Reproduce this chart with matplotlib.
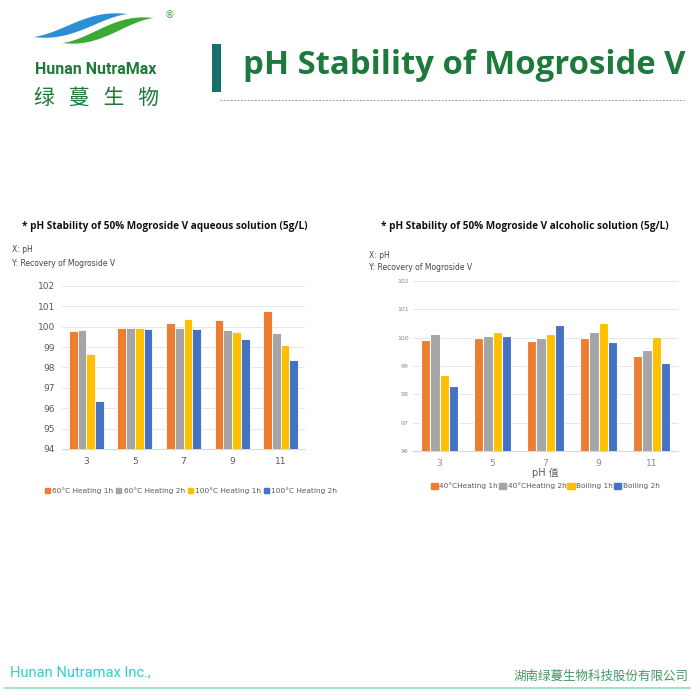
import matplotlib
matplotlib.use('Agg')
import matplotlib.pyplot as plt
import numpy as np
from matplotlib.patches import Rectangle, Polygon

plt.rcParams['font.family'] = ['DejaVu Sans', 'Noto Sans CJK SC']

# data
ph = ['3', '5', '7', '9', '11']

aq_labels = ['60\u00b0C Heating 1h', '60\u00b0C Heating 2h', '100\u00b0C Heating 1h', '100\u00b0C Heating 2h']
aq_60_1h = [99.81, 99.94, 100.20, 100.32, 100.78]
aq_60_2h = [99.83, 99.93, 99.96, 99.85, 99.71]
aq_100_1h = [98.67, 99.93, 100.40, 99.73, 99.09]
aq_100_2h = [96.35, 99.88, 99.89, 99.40, 98.38]

al_labels = ['40\u00b0CHeating 1h', '40\u00b0CHeating 2h', 'Boiling 1h', 'Boiling 2h']
al_40_1h = [99.92, 99.98, 99.90, 99.98, 99.36]
al_40_2h = [100.14, 100.05, 99.98, 100.20, 99.55]
al_boil_1h = [98.70, 100.19, 100.12, 100.51, 100.04]
al_boil_2h = [98.31, 100.05, 100.45, 99.84, 99.12]

colors = ['#ED7D31', '#A5A5A5', '#FFC000', '#4472C4']

fig = plt.figure(figsize=(7, 7), dpi=100)

# overlay in pixel coords for decoration and text
ov = fig.add_axes([0, 0, 1, 1])
ov.set_xlim(0, 700)
ov.set_ylim(700, 0)
ov.set_axis_off()

# logo swooshes
def swoosh(x0, y0, x1, y1, h, color):
    t = np.linspace(0, 1, 80)
    xc = x0 + t * (x1 - x0)
    yc = y0 + (y1 - y0) * (0.5 - 0.5 * np.cos(np.pi * t))
    th = h * np.sin(np.pi * t) ** 1.2
    top = np.column_stack([xc, yc - th / 2])
    bot = np.column_stack([xc[::-1], (yc + th / 2)[::-1]])
    ov.add_patch(Polygon(np.vstack([top, bot]), closed=True, color=color, lw=0))

swoosh(33, 37, 128, 14, 10, '#2B8FD6')
swoosh(62, 43, 154, 18, 10, '#3DA935')
ov.text(170, 15, '\u00ae', fontsize=7, color='#3DA935', ha='center', va='center')
ov.text(96, 69, 'Hunan NutraMax', fontsize=11.5, fontweight='bold', color='#1F7A3A',
        ha='center', va='center', family='Roboto')
ov.text(97, 98, '绿   蔓   生   物', fontsize=15, color='#1F7A3A', ha='center', va='center',
        family=['Noto Sans CJK SC'])

# title block
ov.add_patch(Rectangle((212, 44), 9, 48, color='#17706A', lw=0))
ov.text(243, 65, 'pH Stability of Mogroside V', fontsize=23.7, fontweight='bold',
        color='#1E7A3C', ha='left', va='center', family='Open Sans')
ov.plot([220, 684], [100, 100], ls=(0, (2, 1.5)), color='#9A9A9A', lw=0.7)

# subtitles
ov.text(22, 227, '* pH Stability of 50% Mogroside V aqueous solution (5g/L)', fontsize=7.2,
        fontweight='bold', color='#111111', ha='left', va='center', family='Open Sans')
ov.text(381, 227, '* pH Stability of 50% Mogroside V alcoholic solution (5g/L)', fontsize=7.2,
        fontweight='bold', color='#111111', ha='left', va='center', family='Open Sans')
ov.text(12, 250, 'X: pH', fontsize=5.5, color='#444444', va='center')
ov.text(12, 264, 'Y: Recovery of Mogroside V', fontsize=5.5, color='#444444', va='center')
ov.text(369, 255, 'X: pH', fontsize=5.5, color='#444444', va='center')
ov.text(369, 268, 'Y: Recovery of Mogroside V', fontsize=5.5, color='#444444', va='center')

# footer
ov.text(10, 672, 'Hunan Nutramax Inc.,', fontsize=10.5, color='#30CFCF', va='center',
        family='Roboto')
ov.text(689, 676, '湖南绿蔓生物科技股份有限公司', fontsize=9, color='#4A9468', ha='right',
        va='center', family=['Noto Sans CJK SC'])
ov.plot([5, 690], [688, 688], color='#8FD9C6', lw=1.2)


def bars(ax, series, width, lw):
    x = np.arange(len(ph))
    n = len(series)
    for i, (vals, c) in enumerate(zip(series, colors)):
        ax.bar(x + (i - (n - 1) / 2) * width, vals, width, color=c, edgecolor='white',
               linewidth=lw, zorder=3)
    ax.set_xticks(x)
    ax.set_xticklabels(ph)
    ax.set_xlim(-0.5, len(ph) - 0.5)
    for s in ['top', 'right', 'left']:
        ax.spines[s].set_visible(False)
    ax.spines['bottom'].set_color('#D9D9D9')
    ax.yaxis.grid(True, color='#E6E6E6', lw=0.7, zorder=0)
    ax.tick_params(length=0, colors='#595959')


# left chart: aqueous
axl = fig.add_axes([62 / 700, 1 - 449 / 700, 243 / 700, 163 / 700])
bars(axl, [aq_60_1h, aq_60_2h, aq_100_1h, aq_100_2h], 0.18, 0.6)
axl.set_ylim(94, 102)
axl.set_yticks(range(94, 103))
axl.tick_params(axis='y', labelsize=6.5, pad=5)
axl.tick_params(axis='x', labelsize=6.5, pad=6)

# right chart: alcoholic
axr = fig.add_axes([413 / 700, 1 - 451 / 700, 265 / 700, 170 / 700])
bars(axr, [al_40_1h, al_40_2h, al_boil_1h, al_boil_2h], 0.175, 0.8)
axr.set_ylim(96, 102)
axr.set_yticks(range(96, 103))
axr.tick_params(axis='y', labelsize=4.5, pad=3, colors='#8C8C8C')
axr.tick_params(axis='x', labelsize=6.5, pad=6, colors='#8C8C8C')
axr.set_xlabel('pH 值', fontsize=7, color='#595959', labelpad=0,
               family=['DejaVu Sans', 'Noto Sans CJK SC'])

# legends
handles = [Rectangle((0, 0), 1, 1, color=c) for c in colors]
fig.legend(handles, aq_labels, loc='center', bbox_to_anchor=(191 / 700, 1 - 491 / 700),
           ncol=4, frameon=False, fontsize=5.3, handlelength=0.7, handleheight=0.7,
           handletextpad=0.3, columnspacing=0.4, labelcolor='#595959')
fig.legend(handles, al_labels, loc='center', bbox_to_anchor=(545 / 700, 1 - 486 / 700),
           ncol=4, frameon=False, fontsize=5.3, handlelength=1.0, handleheight=1.0,
           handletextpad=0.2, columnspacing=0.1, labelcolor='#595959')

fig.savefig('out.png', dpi=100)
